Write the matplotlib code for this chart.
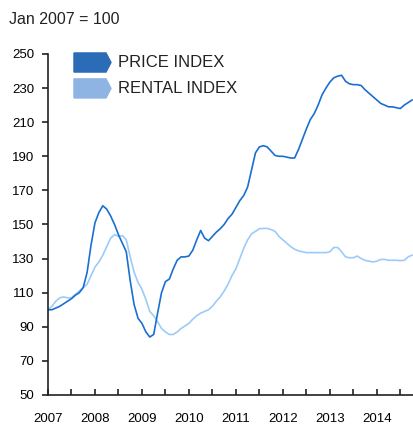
import numpy as np
import matplotlib
matplotlib.use("Agg")
import matplotlib.pyplot as plt
from matplotlib.patches import Polygon

plt.rcParams['font.family'] = ['Liberation Sans', 'DejaVu Sans']

# monthly values, Jan 2007 .. Oct 2014 (Jan 2007 = 100)
price_index = [
    100, 100, 101, 102, 103.5, 105, 106.5, 108.5, 110, 113, 122, 138,
    151, 157, 161, 159, 155, 150, 144, 139, 134, 117, 103, 95,
    92, 87, 84, 85.5, 98, 110, 116.5, 118, 124, 129, 131, 131,
    131.5, 135, 141, 146.5, 142, 140.5, 143, 145.5, 147.5, 150, 153.5, 156,
    160, 164, 167, 172, 182, 192, 195.5, 196.2, 195.5, 193, 190.5, 190,
    190, 189.5, 189, 189, 194, 200, 206, 211.5, 215, 220, 226, 230,
    233.5, 236, 237, 237.5, 234, 232.5, 232, 232, 231.5, 229, 227, 225,
    223, 221, 220, 219, 219, 218.5, 218, 220, 221.5, 223,
]
rental_index = [
    100, 102, 105, 107, 107.5, 107, 107, 109, 111, 113, 115, 120,
    125, 128, 132, 137, 142, 144, 143, 143.5, 141, 131, 122, 116,
    112, 106, 99, 96.5, 93, 89, 87, 85.5, 85.5, 87, 89, 90.5,
    92, 94.5, 96.5, 98, 99, 100, 102, 105, 107.5, 111, 115, 120,
    124, 130, 136, 141, 144.5, 146, 147.5, 147.7, 147.7, 147, 146, 143,
    141, 139, 137, 135.5, 134.5, 134, 133.5, 133.5, 133.5, 133.5, 133.5, 133.5,
    134, 136.5, 136.5, 134, 131, 130.5, 130.5, 131.5, 130, 129, 128.5, 128,
    128.5, 129.5, 129.5, 129, 129, 129, 128.8, 129, 131, 132,
]
years = list(range(2007, 2015))
yticks = list(range(50, 251, 20))
labels = ['PRICE INDEX', 'RENTAL INDEX']

t = 2007 + np.arange(len(price_index)) / 12

price_color = '#1a6fd0'
rental_color = '#9dcbf7'
patch_colors = ['#2b6cb8', '#8db4e3']

fig = plt.figure(figsize=(4.13, 4.25), dpi=100)
ax = fig.add_axes([0.1162, 0.0706, 0.8838, 0.8024])

ax.plot(t, rental_index, color=rental_color, lw=1.2)
ax.plot(t, price_index, color=price_color, lw=1.2)

ax.set_xlim(2007, 2014.77)
ax.set_ylim(50, 250)
ax.set_yticks(yticks)
ax.set_xticks(years)
ax.set_xticks(np.arange(2007.5, 2015, 1), minor=True)

for s in ['top', 'right']:
    ax.spines[s].set_visible(False)
for s in ['left', 'bottom']:
    ax.spines[s].set_color('#222222')
    ax.spines[s].set_linewidth(1.2)

ax.tick_params(axis='y', direction='out', length=4, width=1.2,
               color='#222222', labelsize=9.5, pad=6)
ax.tick_params(axis='x', which='both', direction='in', length=4, width=1.2,
               color='#222222', labelsize=9.5, pad=13)

# legend with arrow-shaped patches
for i, (lab, c) in enumerate(zip(labels, patch_colors)):
    yc = 0.975 - i * 0.076
    h = 0.028
    poly = Polygon([(0.0712, yc + h), (0.159, yc + h), (0.1726, yc),
                    (0.159, yc - h), (0.0712, yc - h)],
                   closed=True, transform=ax.transAxes, color=c,
                   clip_on=False)
    ax.add_patch(poly)
    ax.text(0.192, yc, lab, transform=ax.transAxes, va='center',
            ha='left', fontsize=12, color='#222222')

fig.text(9 / 413, 1 - 19 / 425, 'Jan 2007 = 100', fontsize=11.5,
         va='center', ha='left', color='#222222')

fig.savefig('out.png', dpi=100)
